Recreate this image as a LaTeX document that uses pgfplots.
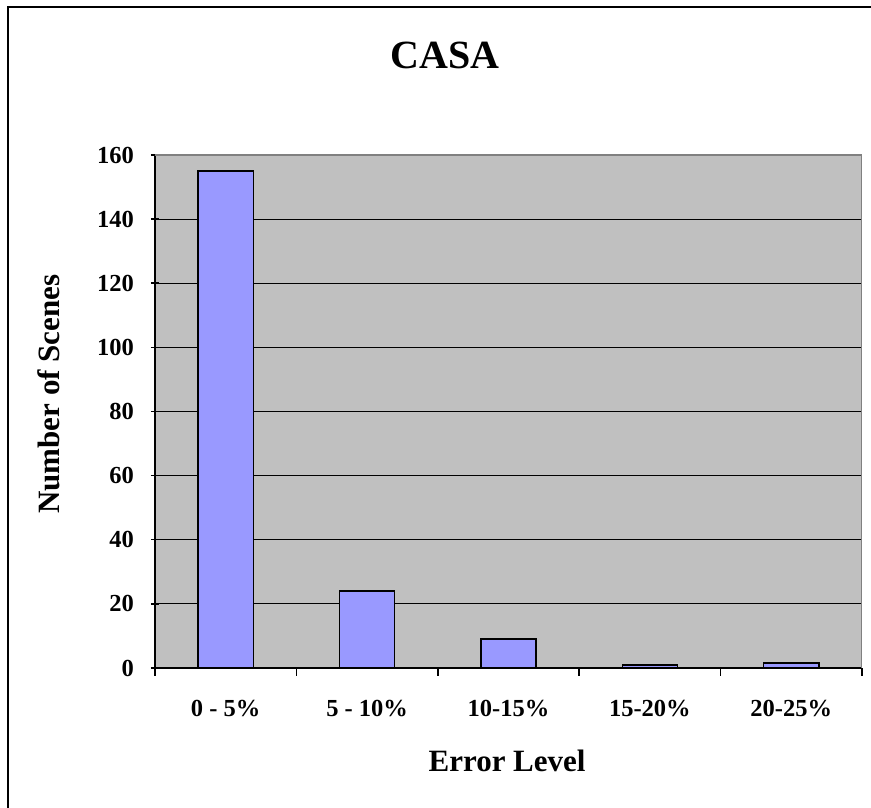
\documentclass[border=0pt]{standalone}
\usepackage{pgfplots}
\pgfplotsset{compat=1.18}
\usepackage{fontspec}
\setmainfont{Liberation Serif}
\definecolor{plotbg}{HTML}{C0C0C0}
\definecolor{barblue}{HTML}{9999FF}
\begin{document}
\begin{tikzpicture}[x=1pt,y=1pt]
\useasboundingbox (0,0) rectangle (871,808);
\draw[line width=2pt] (8,-20) -- (8,801) -- (900,801);
\begin{axis}[
  at={(155pt,140pt)}, anchor=south west,
  scale only axis, width=707pt, height=513pt,
  xmin=-0.5, xmax=4.5, ymin=0, ymax=160,
  ytick={0,20,...,160},
  xtick={0,1,2,3,4},
  xticklabels={0 - 5\%, 5 - 10\%, 10-15\%, 15-20\%, 20-25\%},
  xtick style={draw=none},
  extra x ticks={-0.5,0.5,1.5,2.5,3.5,4.5},
  extra x tick labels={},
  extra x tick style={xtick style={draw=black, line width=1.5pt}, major tick length=8pt, tick align=outside},
  ytick style={draw=black, line width=1.5pt},
  major tick length=8pt, tick align=outside,
  axis lines=left,
  axis line style={-, line width=1.5pt, black},
  axis background/.style={fill=plotbg},
  ymajorgrids, major grid style={black, line width=1pt},
  /pgf/number format/assume math mode=true,
  font=\fontsize{24.5}{29}\selectfont\bfseries,
  ticklabel style={font=\fontsize{24.5}{29}\selectfont\bfseries},
  xticklabel style={anchor=base, inner sep=0pt, yshift=-41pt},
  yticklabel style={anchor=east, inner sep=0pt, xshift=-17pt},
  title={CASA},
  title style={at={(axis description cs:0.41,1.156)}, anchor=base, font=\fontsize{40}{46}\selectfont\bfseries},
  xlabel={Error Level},
  xlabel style={at={(axis description cs:0.498,-0.2027)}, anchor=base, font=\fontsize{31}{36}\selectfont\bfseries},
  ylabel={Number of Scenes},
  ylabel style={at={(axis description cs:-0.1344,0.534)}, anchor=base, rotate=0, font=\fontsize{31}{36}\selectfont\bfseries},
  ybar, bar width=0.39,
]
\addplot[fill=barblue, draw=black, line width=1.5pt] coordinates {(0,155) (1,24) (2,9) (3,1) (4,1.5)};
\draw[color=gray, line width=1.5pt] (rel axis cs:0,1) -- (rel axis cs:1,1) -- (rel axis cs:1,0);
\end{axis}
\end{tikzpicture}
\end{document}
